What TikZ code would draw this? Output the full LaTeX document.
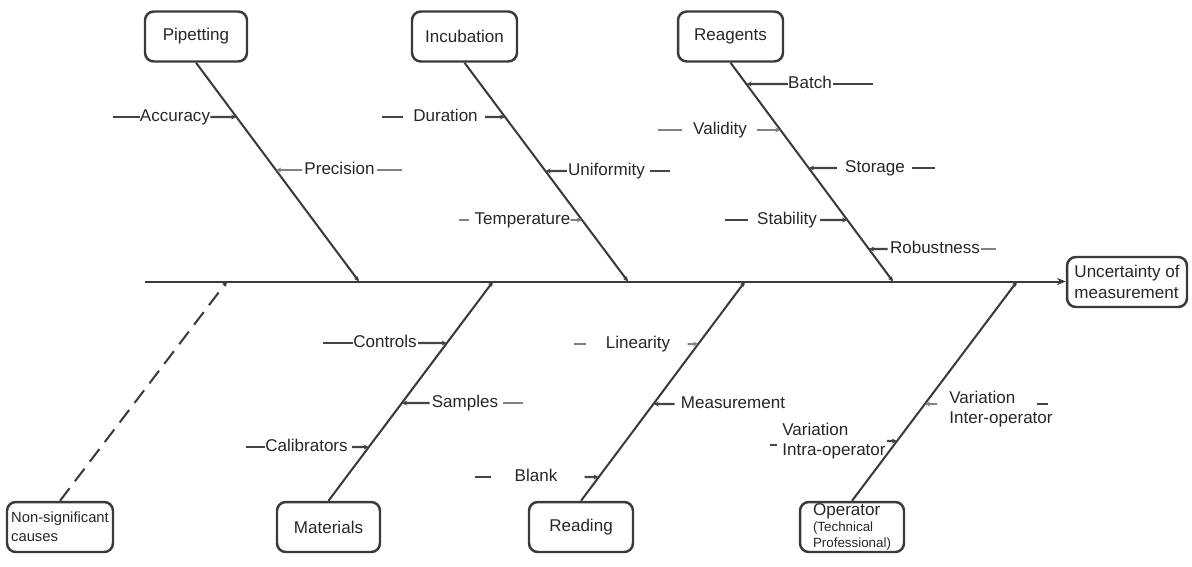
\documentclass[tikz,border=0pt]{standalone}
\usepackage{fontspec}
\setmainfont{Liberation Sans}
\usetikzlibrary{arrows.meta,calc}
\definecolor{InkGray}{RGB}{38,38,38}
\definecolor{BoneGray}{RGB}{58,58,58}
\definecolor{TwigGray}{RGB}{68,68,68}
\definecolor{StubGray}{RGB}{130,130,130}

\tikzset{
  causebox/.style={draw=BoneGray,line width=1.4pt,rounded corners=5pt,text=InkGray,
    font=\fontsize{9.7}{11.9}\selectfont,minimum height=1cm,inner sep=1pt},
  item/.style={text=InkGray,font=\fontsize{9.7}{11}\selectfont,inner sep=0pt,
    text height=7pt,text depth=2pt},
  itemtwo/.style={text=InkGray,font=\fontsize{9.7}{11.4}\selectfont,inner sep=0pt,align=left},
  bone/.style={BoneGray,line width=1.15pt},
  twig/.style={TwigGray,line width=1.2pt},
  pale/.style={StubGray,line width=1.1pt},
  tip/.style={-{Stealth[length=3pt,width=2.8pt]}},
}

\begin{document}
\begin{tikzpicture}[x=0.02cm,y=-0.02cm]
\useasboundingbox (0,0) rectangle (1192,566);
% cause boxes and effect
\node[causebox,minimum width=2.04cm] (pip) at (196,36.5) {Pipetting};
\node[causebox,minimum width=2.1cm] (inc) at (464.5,36.5) {Incubation};
\node[causebox,minimum width=2.1cm] (rea) at (730.5,36.5) {Reagents};
\node[causebox,minimum width=2.4cm,align=left] (unc) at (1127,282) {Uncertainty of\\measurement};
\node[causebox,minimum width=2.12cm,align=left,font=\fontsize{8.4}{10.8}\selectfont] (nsc) at (60,527) {Non-significant\\causes};
\node[causebox,minimum width=2.06cm] (mat) at (328.5,527) {Materials};
\node[causebox,minimum width=2.08cm] (rdg) at (581,527) {Reading};
\node[causebox,minimum width=2.08cm,inner sep=0pt,align=left,font=\fontsize{7.6}{9}\selectfont] (opr) at (852,527)
  {{\fontsize{9.7}{10}\selectfont Operator}\\(Technical\\Professional)};

% spine
\coordinate (tail) at (145,281.5);
\coordinate (jp) at (359,281.5);
\coordinate (ji) at (628,281.5);
\coordinate (jr) at (893,281.5);
\coordinate (jn) at (227,281.5);
\coordinate (jm) at (493,281.5);
\coordinate (jd) at (745,281.5);
\coordinate (jo) at (1017,281.5);
\draw[bone,-{Stealth[length=5pt,width=4pt]}] (tail) -- (unc.west |- tail);

% main bones
\draw[bone,tip] (pip.south) -- (jp);
\draw[bone,tip] (inc.south) -- (ji);
\draw[bone,tip] (rea.south) -- (jr);
\draw[bone,tip,dash pattern=on 9pt off 5pt] (nsc.north) -- (jn);
\draw[bone,tip] (mat.north) -- (jm);
\draw[bone,tip] (rdg.north) -- (jd);
\draw[bone,tip] (opr.north) -- (jo);

% Pipetting
\node[item] (acc) at (175,117) {Accuracy};
\draw[twig] ($(acc.west)+(-27,0)$) -- (acc.west);
\draw[twig,tip] (acc.east) -- (intersection of pip.south--jp and acc.west--acc.east);
\node[item] (pre) at (339.5,170) {Precision};
\draw[pale,tip] ($(pre.west)+(-2,0)$) -- (intersection of pip.south--jp and pre.west--pre.east);
\draw[pale] ($(pre.east)+(2,0)$) -- ++(25,0);

% Incubation
\node[item] (dur) at (445.5,117) {Duration};
\draw[twig] ($(dur.west)+(-31,0)$) -- ++(21,0);
\draw[twig,tip] ($(dur.east)+(7,0)$) -- (intersection of inc.south--ji and dur.west--dur.east);
\node[item] (uni) at (606.5,171) {Uniformity};
\draw[twig,tip] ($(uni.west)+(-1,0)$) -- (intersection of inc.south--ji and uni.west--uni.east);
\draw[twig] ($(uni.east)+(5,0)$) -- ++(20,0);
\node[item] (tem) at (522.5,220) {Temperature};
\draw[pale] ($(tem.west)+(-15,0)$) -- ++(10,0);
\draw[pale,tip] (tem.east) -- (intersection of inc.south--ji and tem.west--tem.east);

% Reagents
\node[item] (bat) at (810,84) {Batch};
\draw[twig,tip] (bat.west) -- (intersection of rea.south--jr and bat.west--bat.east);
\draw[twig] ($(bat.east)+(1,0)$) -- ++(40,0);
\node[item] (val) at (720,130) {Validity};
\draw[pale] ($(val.west)+(-35,0)$) -- ++(24,0);
\draw[pale,tip] ($(val.east)+(10,0)$) -- (intersection of rea.south--jr and val.west--val.east);
\node[item] (sto) at (875,168) {Storage};
\draw[twig,tip] ($(sto.west)+(-8,0)$) -- (intersection of rea.south--jr and sto.west--sto.east);
\draw[twig] ($(sto.east)+(7,0)$) -- ++(23,0);
\node[item] (sta) at (787,220) {Stability};
\draw[twig] ($(sta.west)+(-32,0)$) -- ++(23,0);
\draw[twig,tip] ($(sta.east)+(3,0)$) -- (intersection of rea.south--jr and sta.west--sta.east);
\node[item] (rob) at (935,249) {Robustness};
\draw[twig,tip] ($(rob.west)+(-2,0)$) -- (intersection of rea.south--jr and rob.west--rob.east);
\draw[pale] ($(rob.east)+(1,0)$) -- ++(15,0);

% Materials
\node[item] (con) at (385,343) {Controls};
\draw[twig] ($(con.west)+(-30,0)$) -- (con.west);
\draw[twig,tip] ($(con.east)+(1,0)$) -- (intersection of mat.north--jm and con.west--con.east);
\node[item] (sam) at (465,403) {Samples};
\draw[twig,tip] ($(sam.west)+(-2,0)$) -- (intersection of mat.north--jm and sam.west--sam.east);
\draw[pale] ($(sam.east)+(4,0)$) -- ++(20,0);
\node[item] (cal) at (306.5,447) {Calibrators};
\draw[twig] ($(cal.west)+(-19,0)$) -- (cal.west);
\draw[twig,tip] ($(cal.east)+(4,0)$) -- (intersection of mat.north--jm and cal.west--cal.east);

% Reading
\node[item] (lin) at (638,344) {Linearity};
\draw[pale] ($(lin.west)+(-31,0)$) -- ++(12,0);
\draw[pale,tip] ($(lin.east)+(17,0)$) -- (intersection of rdg.north--jd and lin.west--lin.east);
\node[item] (mea) at (733,404) {Measurement};
\draw[twig,tip] ($(mea.west)+(-6,0)$) -- (intersection of rdg.north--jd and mea.west--mea.east);
\node[item] (bla) at (536,477) {Blank};
\draw[twig] ($(bla.west)+(-39,0)$) -- ++(16,0);
\draw[twig,tip] ($(bla.east)+(27,0)$) -- (intersection of rdg.north--jd and bla.west--bla.east);

% Operator
\node[itemtwo] (inter) at (1001,409) {Variation\\Inter-operator};
\coordinate (interp) at ($(inter.west)+(-12,-5)$);
\coordinate (interq) at ($(inter.east)+(0,-5)$);
\draw[pale,tip] (interp) -- (intersection of opr.north--jo and interp--interq);
\draw[twig] ($(inter.east)+(-16,-5)$) -- ++(11,0);
\node[itemtwo] (intra) at (834,441) {Variation\\Intra-operator};
\draw[twig] ($(intra.west)+(-12,4)$) -- ++(7,0);
\draw[twig,tip] ($(intra.east)+(1,0)$) -- (intersection of opr.north--jo and intra.west--intra.east);
\end{tikzpicture}
\end{document}
